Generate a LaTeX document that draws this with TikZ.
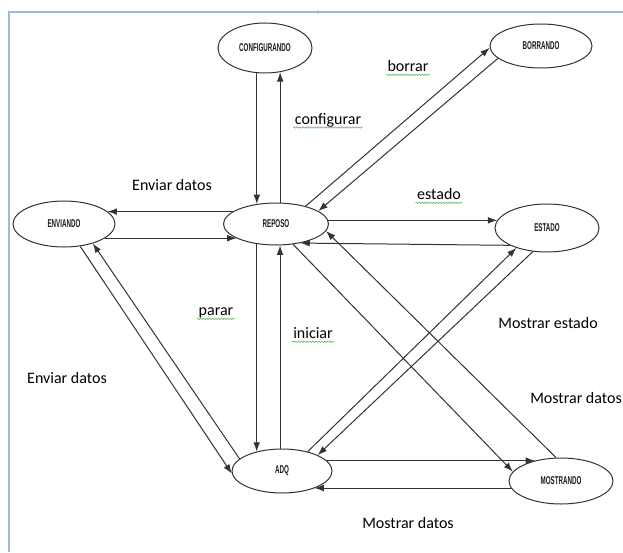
\documentclass[tikz,border=0pt]{standalone}
\usepackage{fontspec}
\usepackage{graphicx}
\setmainfont{Carlito}
\newfontfamily\statefont{Liberation Sans}
\usetikzlibrary{arrows.meta,shapes.geometric,decorations.pathmorphing}
\definecolor{framec}{HTML}{9DBBD9}
\definecolor{squigc}{HTML}{6CB86C}
\newcommand\stxt[1]{\scalebox{0.55}[1]{#1}}
\begin{document}
\begin{tikzpicture}[x=0.75pt,y=-0.75pt,
  st/.style={ellipse, draw=black!80, line width=0.75pt, inner sep=0pt,
    font=\statefont\bfseries\fontsize{8.5}{8.5}\selectfont, text=black!90},
  ar/.style={draw=black!80, line width=0.75pt, -{Latex[length=7pt,width=5pt]}},
  lbl/.style={font=\fontsize{12}{14}\selectfont, inner sep=1pt, text=black},
  squig/.style={draw=squigc, line width=0.5pt, decorate,
    decoration={snake, amplitude=0.5pt, segment length=2.2pt}},
  framel/.style={draw=framec, line width=0.9pt}]
\useasboundingbox (0,0) rectangle (623,552);
% frame
\draw[framel] (9,552) -- (9,12) -- (623,12);
\fill[framec] (318,12) circle (1.8);
\fill[framec] (9,12) circle (1.5);
% states
\node[st, minimum width=70.5pt, minimum height=37.5pt] (conf) at (265,48) {\stxt{CONFIGURANDO}};
\node[st, minimum width=76.5pt, minimum height=33pt] (borr) at (541,46) {\stxt{BORRANDO}};
\node[st, minimum width=76.5pt, minimum height=34.5pt] (env) at (64,224) {\stxt{ENVIANDO}};
\node[st, minimum width=78.75pt, minimum height=31.5pt] (rep) at (276,224) {\stxt{REPOSO}};
\node[st, minimum width=78pt, minimum height=36pt] (est) at (547,228) {\stxt{ESTADO}};
\node[st, minimum width=75pt, minimum height=33pt] (adq) at (282,471) {\stxt{ADQ}};
\node[st, minimum width=78pt, minimum height=34.5pt] (most) at (561,481) {\stxt{MOSTRANDO}};
% connectors
\draw[ar] (conf.252) -- (conf.252 |- rep.134);
\draw[ar] (rep.79) -- (rep.79 |- conf.302);
\draw[ar] (rep.164) -- (rep.164 -| env.16);
\draw[ar] (env.341) -- (env.341 -| rep.200);
\draw[ar] (rep.4) -- (rep.4 -| est.171);
\draw[ar] (est.205) -- (rep.322);
\draw[ar] (rep.31) -- (borr.182);
\draw[ar] (borr.196) -- (rep.17);
\draw[ar] (rep.226) -- (rep.226 |- adq.143);
\draw[ar] (adq.95) -- (adq.95 |- rep.281);
\draw[ar] (rep.310) -- (most.169);
\draw[ar] (most.102) -- (rep.352);
\draw[ar] (adq.37) -- (est.213);
\draw[ar] (est.239) -- (adq.24);
\draw[ar] (adq.13) -- (adq.13 -| most.142);
\draw[ar] (most.188) -- (most.188 -| adq.332);
\draw[ar] (env.306) -- (adq.183);
\draw[ar] (adq.164) -- (env.326);
% labels
\node[lbl] (lb1) at (408,66) {borrar};
\node[lbl] (lb2) at (328,120) {configurar};
\node[lbl] (lb3) at (172,185) {Enviar datos};
\node[lbl] (lb4) at (439,194) {estado};
\node[lbl] (lb5) at (216,313) {parar};
\node[lbl] (lb6) at (313,333) {iniciar};
\node[lbl] (lb7) at (548,323) {Mostrar estado};
\node[lbl] (lb8) at (67,378) {Enviar datos};
\node[lbl] (lb9) at (576,398) {Mostrar datos};
\node[lbl] (lb10) at (408,523) {Mostrar datos};
\foreach \l in {lb1,lb2,lb4,lb5,lb6}{
  \draw[squig] ([yshift=-2.5pt]\l.base west) -- ([yshift=-2.5pt]\l.base east);
}
\end{tikzpicture}
\end{document}
